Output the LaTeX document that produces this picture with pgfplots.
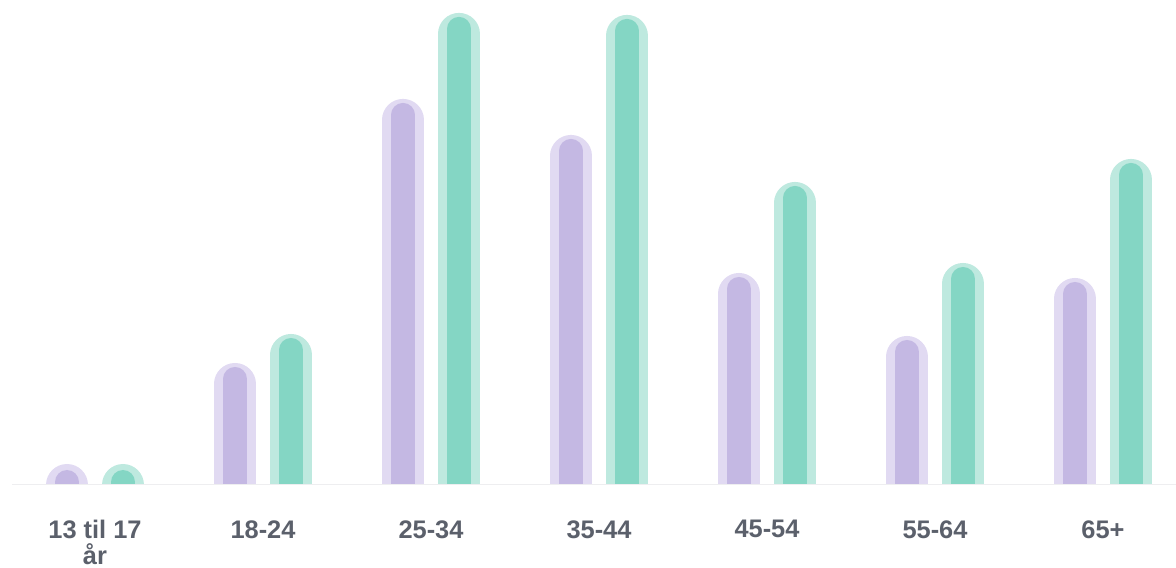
\documentclass[border=0pt]{standalone}
\usepackage{fontspec}
\setmainfont{Liberation Sans}
\usepackage{pgfplots}
\usepackage{pgfplotstable}
\pgfplotsset{compat=1.18}

\definecolor{purpIn}{HTML}{C4B8E3}
\definecolor{purpOut}{HTML}{E1DAF2}
\definecolor{tealIn}{HTML}{84D6C4}
\definecolor{tealOut}{HTML}{BEE9DF}
\definecolor{lbl}{HTML}{5B606B}
\definecolor{base}{HTML}{EEEEF0}

% top of each bar, measured from the baseline (1 unit = 1 px)
\pgfplotstableread{
x  purple teal
0  19     19
1  122    151
2  386    472
3  350    470
4  212    303
5  149    222
6  207    326
}\agedata

\begin{document}
\begin{tikzpicture}
\path[use as bounding box] (-6pt,-41pt) rectangle (582pt,242.5pt);
\begin{axis}[
    at={(0,0)}, anchor=south west,
    scale only axis,
    width=582pt, height=242.5pt,
    xmin=-0.494, xmax=6.4345,
    ymin=0, ymax=485,
    axis line style={draw=none},
    major tick length=0pt,
    ytick=\empty,
    xtick={0,...,6},
    xticklabels={{13 til 17\\[1pt]år},18-24,25-34,35-44,45-54,55-64,65+},
    xticklabel shift=17.5pt,
    xticklabel style={font=\fontsize{12.7}{12}\selectfont\bfseries,
        text=lbl, align=center, inner sep=0pt, anchor=north},
    clip=true,
]
% outer halo: 42 px wide, round cap adds 21 px on top
\addplot[ycomb, no marks, line cap=round, line width=21pt, draw=purpOut, xshift=-14pt]
    table[x=x, y expr=\thisrow{purple}-21] {\agedata};
\addplot[ycomb, no marks, line cap=round, line width=21pt, draw=tealOut, xshift=14pt]
    table[x=x, y expr=\thisrow{teal}-21] {\agedata};
% inner bar: 24 px wide, top 4 px below the halo
\addplot[ycomb, no marks, line cap=round, line width=12pt, draw=purpIn, xshift=-14pt]
    table[x=x, y expr=\thisrow{purple}-16] {\agedata};
\addplot[ycomb, no marks, line cap=round, line width=12pt, draw=tealIn, xshift=14pt]
    table[x=x, y expr=\thisrow{teal}-16] {\agedata};
\draw[base, line width=1pt] (rel axis cs:0,0) -- (rel axis cs:1,0);
\end{axis}
\end{tikzpicture}
\end{document}
